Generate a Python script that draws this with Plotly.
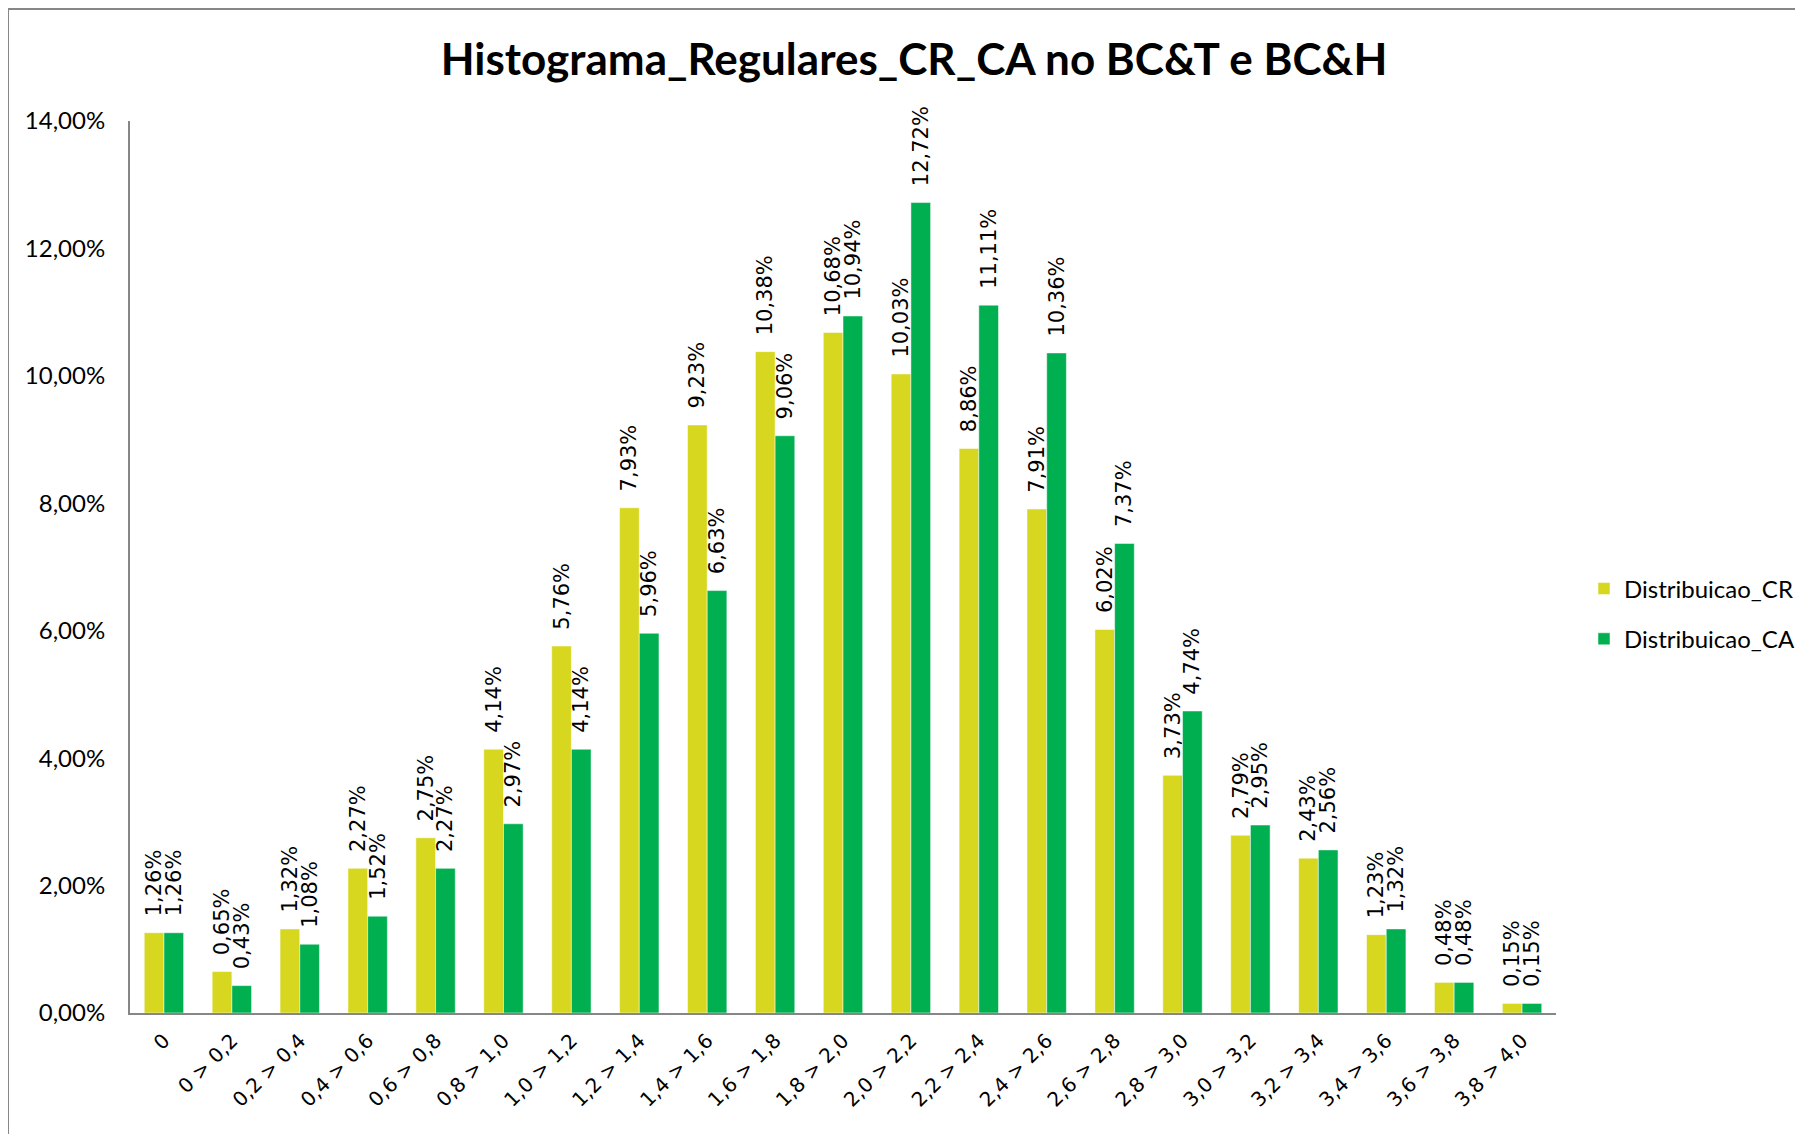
import plotly.graph_objects as go

categories = ["0", "0 > 0,2", "0,2 > 0,4", "0,4 > 0,6", "0,6 > 0,8", "0,8 > 1,0",
              "1,0 > 1,2", "1,2 > 1,4", "1,4 > 1,6", "1,6 > 1,8", "1,8 > 2,0",
              "2,0 > 2,2", "2,2 > 2,4", "2,4 > 2,6", "2,6 > 2,8", "2,8 > 3,0",
              "3,0 > 3,2", "3,2 > 3,4", "3,4 > 3,6", "3,6 > 3,8", "3,8 > 4,0"]
dist_cr = [1.26, 0.65, 1.32, 2.27, 2.75, 4.14, 5.76, 7.93, 9.23, 10.38, 10.68,
           10.03, 8.86, 7.91, 6.02, 3.73, 2.79, 2.43, 1.23, 0.48, 0.15]
dist_ca = [1.26, 0.43, 1.08, 1.52, 2.27, 2.97, 4.14, 5.96, 6.63, 9.06, 10.94,
           12.72, 11.11, 10.36, 7.37, 4.74, 2.95, 2.56, 1.32, 0.48, 0.15]

# figure is drawn with an 8px page margin
W, H = 1795, 1126
L, T = 122, 113
pw, ph = 1426, 892
R = W - L - pw
B = H - T - ph

def mk(name, vals, color, grp):
    return go.Bar(
        name=name, x=categories, y=[v / 100 for v in vals], legendgroup=grp,
        marker=dict(color=color, line=dict(color="rgba(255,255,255,0.5)", width=1)),
        texttemplate="\u00a0\u00a0%{y:.2%}", textposition="outside", textangle=-90,
        constraintext="none", cliponaxis=False,
        outsidetextfont=dict(family="DejaVu Sans", size=21, color="black"),
    )

fig = go.Figure([mk("Distribuicao_CR", dist_cr, "#D6D71E", "a"),
                 mk("Distribuicao_CA", dist_ca, "#00B050", "b")])

fig.update_layout(
    width=W, height=H,
    margin=dict(l=L, r=R, t=T, b=B, autoexpand=False),
    paper_bgcolor="white", plot_bgcolor="white",
    separators=",.",
    barmode="group", bargap=0.42, bargroupgap=0,
    title=dict(text="<b>Histograma_Regulares_CR_CA no BC&T e BC&H</b>",
               x=906 / W, xanchor="center", y=1 - 52 / H, yanchor="middle",
               font=dict(family="Lato", size=44, color="black")),
    font=dict(family="Lato", color="black"),
    legend=dict(x=(1576 - L) / pw, xanchor="left", y=(T + ph - 606) / ph, yanchor="middle",
                font=dict(family="Lato", size=24, color="black"),
                itemwidth=30, tracegroupgap=16, bgcolor="rgba(0,0,0,0)"),
    xaxis=dict(showline=True, linecolor="#868686", linewidth=2, ticks="",
               tickangle=-45, tickfont=dict(family="DejaVu Sans", size=20, color="black"),
               showgrid=False, ticklabelstandoff=6),
    yaxis=dict(range=[0, 0.14], dtick=0.02, tickformat=".2%", showline=True,
               linecolor="#868686", linewidth=2, ticks="", showgrid=False, zeroline=False,
               ticklabelstandoff=18,
               tickfont=dict(family="Lato", size=24, color="black")),
    shapes=[dict(type="rect", xref="paper", yref="paper",
                 x0=(0 - L) / pw, x1=(W + 20 - L) / pw,
                 y0=(T + ph - (H + 20)) / ph, y1=(T + ph - 1) / ph,
                 line=dict(color="#878787", width=2), fillcolor="rgba(0,0,0,0)", layer="below")],
)

fig.write_html("out.html")
